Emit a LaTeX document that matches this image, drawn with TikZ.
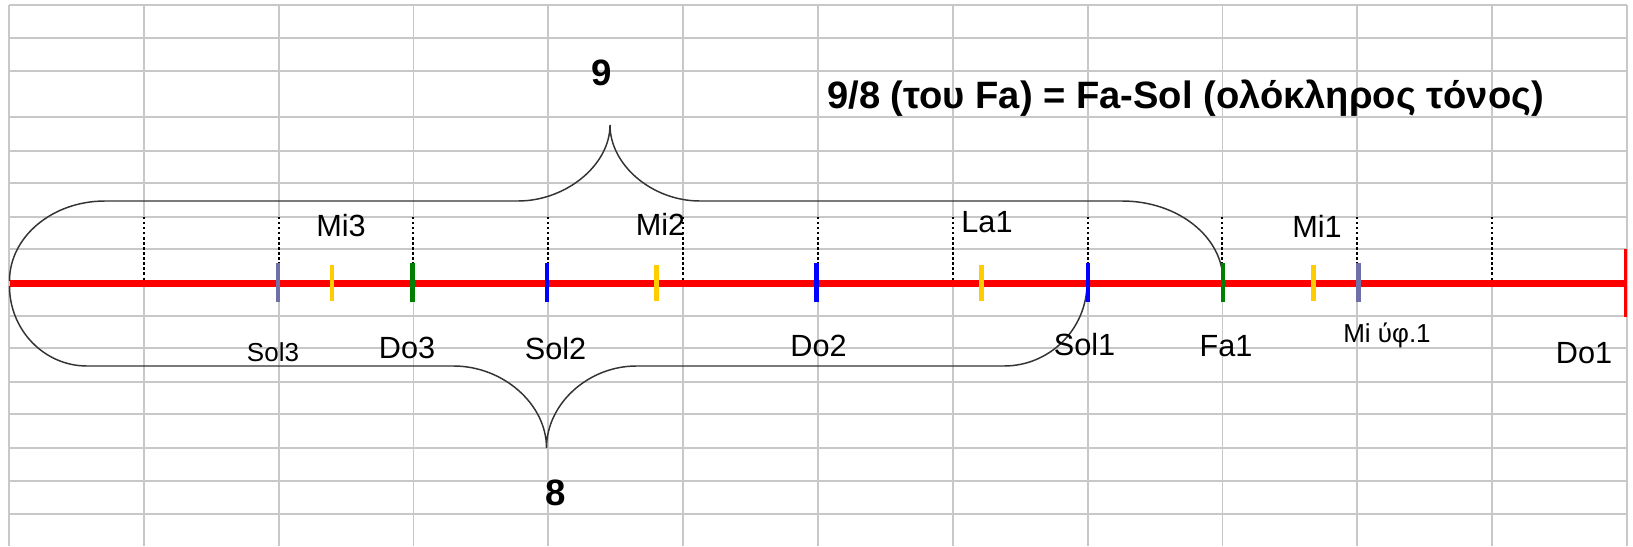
\documentclass[tikz,border=0pt]{standalone}
\usepackage{fontspec}
\setmainfont{Liberation Sans}
\definecolor{gridgray}{RGB}{200,200,200}
\definecolor{tickslate}{RGB}{112,112,168}
\definecolor{tickyellow}{RGB}{255,204,0}
\definecolor{tickgreen}{RGB}{0,128,0}
\definecolor{tickblue}{RGB}{0,0,255}
\begin{document}
\begin{tikzpicture}[x=0.75pt,y=-0.75pt,
  gridline/.style={draw=gridgray,line width=1.3pt},
  dotline/.style={draw=black,line width=1.5pt,dash pattern=on 1.9pt off 1.9pt},
  axisline/.style={draw=red,line width=5.25pt},
  tickmark/.style={line width=3.4pt},
  bracepath/.style={draw=black!80,line width=1.1pt},
  lbl/.style={inner sep=0pt,anchor=base,font=\fontsize{23}{27}\selectfont},
  slbl/.style={inner sep=0pt,anchor=base,font=\fontsize{19.5}{23}\selectfont},
  bigtxt/.style={inner sep=0pt,anchor=base,font=\fontsize{27.5}{33}\selectfont\bfseries},
  titletxt/.style={inner sep=0pt,anchor=base west,font=\fontsize{28.6}{33}\selectfont\bfseries}]
\useasboundingbox (0,0) rectangle (1633,546);
\fill[white] (0,0) rectangle (1633,546);
% grid
\foreach \y in {5,37.7,70.7,117.3,150.7,183.3,216.7,249.3,282.5,315.7,348.3,381.7,414.3,447.7,480.7,514}
  \draw[gridline] (9,\y) -- (1627,\y);
\draw[gridline] (9,5) -- (9,546);
\draw[gridline] (1627,5) -- (1627,546);
\foreach \k in {1,...,11}{
  \draw[gridline] ({9+134.83*\k},5) -- ({9+134.83*\k},216.7);
  \draw[gridline] ({9+134.83*\k},282.5) -- ({9+134.83*\k},546);
  \draw[dotline] ({9+134.83*\k},216.7) -- ({9+134.83*\k},280);
}
% upper brace (9)
\coordinate (ubL) at (9.5,281);
\coordinate (ubR) at (1223,281);
\coordinate (ubTip) at (610,125);
\draw[bracepath] (ubL) .. controls (9.5,236.8) and (52.3,201) .. (105,201)
  -- (518,201) .. controls (566,201) and (610,165) .. (ubTip)
  .. controls (610,165) and (652,201) .. (700,201)
  -- (1122,201) .. controls (1177.8,201) and (1223,236.8) .. (ubR);
% lower brace (8)
\coordinate (lbL) at (9.5,286);
\coordinate (lbR) at (1087,283);
\coordinate (lbTip) at (546.5,448);
\draw[bracepath] (lbL) .. controls (9.5,330) and (44.2,366) .. (87,366)
  -- (453.6,366) .. controls (503,366) and (546.5,404) .. (lbTip)
  .. controls (546.5,404) and (588,366) .. (636.4,366)
  -- (1004,366) .. controls (1049.8,366) and (1087,328.8) .. (lbR);
% axis
\coordinate (axL) at (10,283.5);
\coordinate (axR) at (1626,283.5);
\draw[axisline] (axL) -- (axR);
\draw[draw=red,line width=2.6pt] (1625.5,249.3) -- (1625.5,316.7);
% ticks
\foreach \x/\c in {278/tickslate,412.5/tickgreen,547/tickblue,816.5/tickblue,1088/tickblue,1223/tickgreen,1358.5/tickslate}
  \draw[tickmark,draw=\c] (\x,263) -- (\x,302);
\foreach \x in {332,656.5,981.5,1313.5}
  \draw[tickmark,draw=tickyellow] (\x,264.5) -- (\x,300.5);
% texts
\node[bigtxt] (nine) at (602,85.5) {9};
\node[bigtxt] (eight) at (556,505) {8};
\node[titletxt] (title) at (827,108) {9/8 (του Fa) = Fa-Sol (ολόκληρος τόνος)};
\node[lbl] (mi3) at (341,236) {Mi3};
\node[lbl] (mi2) at (660.5,235) {Mi2};
\node[lbl] (la1) at (987,232) {La1};
\node[lbl] (mi1) at (1317,237) {Mi1};
\node[slbl] (sol3) at (273,361.5) {Sol3};
\node[lbl] (do3) at (407,358.5) {Do3};
\node[lbl] (sol2) at (555.5,359.5) {Sol2};
\node[lbl] (do2) at (818.6,356.5) {Do2};
\node[lbl] (sol1) at (1084.5,355) {Sol1};
\node[lbl] (fa1) at (1226,356.5) {Fa1};
\node[slbl] (miyf1) at (1387,342) {Mi ύφ.1};
\node[lbl] (do1) at (1584,363.5) {Do1};
\end{tikzpicture}
\end{document}
